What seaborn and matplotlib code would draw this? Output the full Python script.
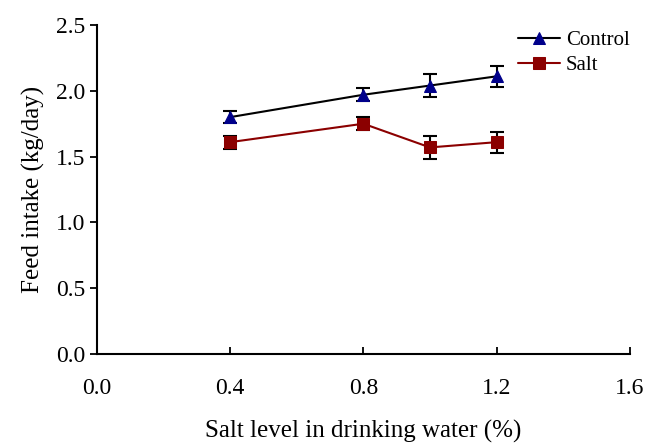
import numpy as np
import pandas as pd
import seaborn as sns
import matplotlib.pyplot as plt

# Values
salt_level = [0.4, 0.8, 1.0, 1.2]
control_mean = [1.80, 1.97, 2.04, 2.11]
control_err = [0.045, 0.05, 0.09, 0.08]
salt_mean = [1.61, 1.75, 1.57, 1.61]
salt_err = [0.05, 0.05, 0.09, 0.08]

x_ticks = [0.0, 0.4, 0.8, 1.2, 1.6]
y_ticks = [0.0, 0.5, 1.0, 1.5, 2.0, 2.5]

df = pd.concat([
    pd.DataFrame({"level": salt_level, "intake": control_mean, "err": control_err, "group": "Control"}),
    pd.DataFrame({"level": salt_level, "intake": salt_mean, "err": salt_err, "group": "Salt"}),
])

sns.set_style("ticks")
plt.rcParams["font.family"] = ["Liberation Serif", "DejaVu Serif"]
plt.rcParams["text.color"] = "black"
plt.rcParams["axes.labelcolor"] = "black"
plt.rcParams["xtick.color"] = "black"
plt.rcParams["ytick.color"] = "black"
plt.rcParams["axes.edgecolor"] = "black"

fig = plt.figure(figsize=(6.5, 4.46), dpi=100)
ax = fig.add_axes([0.149, 0.206, 0.82, 0.738])

styles = {"Control": ("black", "#00008B", "^"), "Salt": ("#8B0000", "#8B0000", "s")}
for name, sub in df.groupby("group"):
    line_c, mk_c, mk = styles[name]
    ax.errorbar(sub["level"], sub["intake"], yerr=sub["err"], fmt="none",
                ecolor="black", elinewidth=1.5, capsize=5, capthick=1.5, zorder=2)
    sns.lineplot(data=sub, x="level", y="intake", ax=ax, color=line_c, lw=1.5,
                 marker=mk, markersize=8.5, markerfacecolor=mk_c, markeredgecolor=mk_c,
                 label=name, zorder=3)

ax.set_xlim(0, 1.6)
ax.set_ylim(0, 2.5)
ax.set_xticks(x_ticks)
ax.set_yticks(y_ticks)
ax.set_xticklabels([f"{t:.1f}" for t in x_ticks])
ax.set_yticklabels([f"{t:.1f}" for t in y_ticks])
ax.tick_params(axis="x", direction="in", length=5, width=1.3, labelsize=17, pad=17)
ax.tick_params(axis="y", direction="out", length=5, width=1.3, labelsize=17)
for s in ["top", "right"]:
    ax.spines[s].set_visible(False)
for s in ["left", "bottom"]:
    ax.spines[s].set_linewidth(1.5)

ax.set_xlabel("Salt level in drinking water (%)", fontsize=18, labelpad=15)
ax.set_ylabel("Feed intake (kg/day)", fontsize=18, labelpad=8)

ax.legend(loc="upper right", bbox_to_anchor=(1.035, 1.04), frameon=False,
          fontsize=15, handlelength=2.0, handletextpad=0.3, labelspacing=0.25)

fig.savefig("out.png", dpi=100)
